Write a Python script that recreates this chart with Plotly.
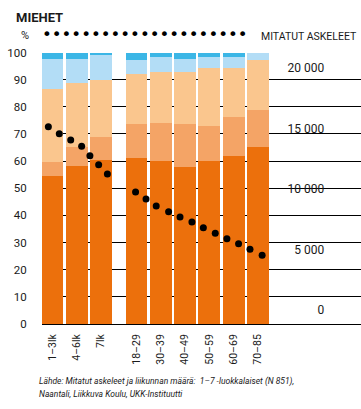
import plotly.graph_objects as go

categories = ["1–3lk", "4–6lk", "7lk", "18–29", "30–39", "40–49", "50–59", "60–69", "70–85"]
group = [0, 0, 0, 1, 1, 1, 1, 1, 1]

seg_dark = [54.4, 58.2, 60.3, 61.1, 59.9, 57.8, 59.9, 61.8, 65.2]
seg_medium = [5.3, 7.0, 8.6, 12.7, 14.1, 15.7, 12.9, 14.4, 13.5]
seg_peach = [27.0, 23.7, 21.1, 18.4, 18.8, 19.5, 21.4, 18.2, 18.4]
seg_lightblue = [11.1, 8.9, 9.0, 5.1, 5.4, 4.5, 4.3, 3.8, 2.9]
seg_blue = [2.2, 2.2, 1.0, 2.7, 1.8, 2.5, 1.5, 1.8, 0.0]

# measured steps (position along the category axis, value)
steps_x = [-0.17, 0.28, 0.75, 1.20, 1.54, 1.90, 2.26,
           3.42, 3.85, 4.27, 4.78, 5.25, 5.74, 6.21, 6.70, 7.18, 7.66, 8.13, 8.63]
steps = [15150, 14570, 14050, 13530, 12750, 12010, 11240,
         9750, 9170, 8600, 8120, 7690, 7270, 6800, 6340, 5890, 5480, 5020, 4520]

left_ticks = list(range(0, 101, 10))
right_ticks = [0, 5000, 10000, 15000, 20000]
right_ticktext = ["0", "5 000", "10 000", "15 000", "20 000"]

GAP = 0.457
pos = [i + GAP * g for i, g in enumerate(group)]

FONT = "Roboto, Liberation Sans, sans-serif"
TXT = "#1a1a1a"

colors = ["#EC700C", "#F4A466", "#FAC68E", "#B3DDF6", "#3BB6E6"]
series = [seg_dark, seg_medium, seg_peach, seg_lightblue, seg_blue]

fig = go.Figure()
for vals, col in zip(series, colors):
    fig.add_trace(go.Bar(x=pos, y=vals, marker=dict(color=col, line=dict(width=0)),
                         width=0.9, showlegend=False, hoverinfo="skip"))

fig.add_trace(go.Scatter(x=steps_x, y=steps, yaxis="y2", mode="markers",
                         marker=dict(color="black", size=7), showlegend=False,
                         hoverinfo="skip"))

PW, PH = 319, 272
fig.update_layout(
    width=361, height=409,
    margin=dict(l=42, r=0, t=52, b=85, autoexpand=False),
    barmode="stack", bargap=0,
    plot_bgcolor="white", paper_bgcolor="white",
    font=dict(family=FONT, color=TXT, size=11),
    xaxis=dict(range=[-0.432, 12.70], tickvals=pos, ticktext=categories,
               tickangle=-90, showgrid=False, zeroline=False, automargin=False,
               showline=True, linecolor="black", linewidth=1,
               ticks="outside", ticklen=5, tickcolor="rgba(0,0,0,0)",
               tickfont=dict(size=10.5, family=FONT, color=TXT)),
    yaxis=dict(range=[0, 100.2], tickvals=left_ticks, showgrid=True,
               gridcolor="black", gridwidth=1, zeroline=False, automargin=False,
               ticks="outside", ticklen=12, tickcolor="rgba(0,0,0,0)",
               tickfont=dict(size=11.5, family=FONT, color=TXT)),
    yaxis2=dict(range=[-1157, 21320], overlaying="y", side="left", anchor="free",
                position=0.885, tickvals=right_ticks, ticktext=right_ticktext,
                showgrid=False, zeroline=False, showline=False, automargin=False,
                ticks="", tickfont=dict(size=12, family=FONT, color=TXT)),
)

def py(pix):
    return (409 - 85 - pix) / PH

def px(pix):
    return (pix - 42) / PW

fig.add_annotation(xref="paper", yref="paper", x=px(14), y=py(17),
                   xanchor="left", yanchor="middle", showarrow=False,
                   text="<b>MIEHET</b>", font=dict(size=13, family=FONT, color=TXT))
fig.add_annotation(xref="paper", yref="paper", x=px(31), y=py(35),
                   xanchor="right", yanchor="middle", showarrow=False,
                   text="%", font=dict(size=11, family=FONT, color=TXT))
fig.add_annotation(xref="paper", yref="paper", x=px(39.5), y=py(34),
                   xanchor="left", yanchor="middle", showarrow=False,
                   text="•" * 21, font=dict(size=16.6, family="DejaVu Sans", color="black"))
fig.add_annotation(xref="paper", yref="paper", x=px(359), y=py(36),
                   xanchor="right", yanchor="middle", showarrow=False,
                   text="MITATUT ASKELEET", font=dict(size=10.5, family=FONT, color=TXT))
fig.add_annotation(xref="paper", yref="paper", x=px(37), y=py(381),
                   xanchor="left", yanchor="middle", showarrow=False, align="left",
                   text="<i>Lähde: Mitatut askeleet ja liikunnan määrä:  1–7 -luokkalaiset (N 851),</i>",
                   font=dict(size=8.5, family=FONT, color=TXT))
fig.add_annotation(xref="paper", yref="paper", x=px(37), y=py(394),
                   xanchor="left", yanchor="middle", showarrow=False, align="left",
                   text="<i>Naantali, Liikkuva Koulu, UKK-Instituutti</i>",
                   font=dict(size=8.5, family=FONT, color=TXT))

fig.write_html("out.html", config={"displayModeBar": False},
               post_script="document.body.style.margin='0';document.body.style.padding='0';")
